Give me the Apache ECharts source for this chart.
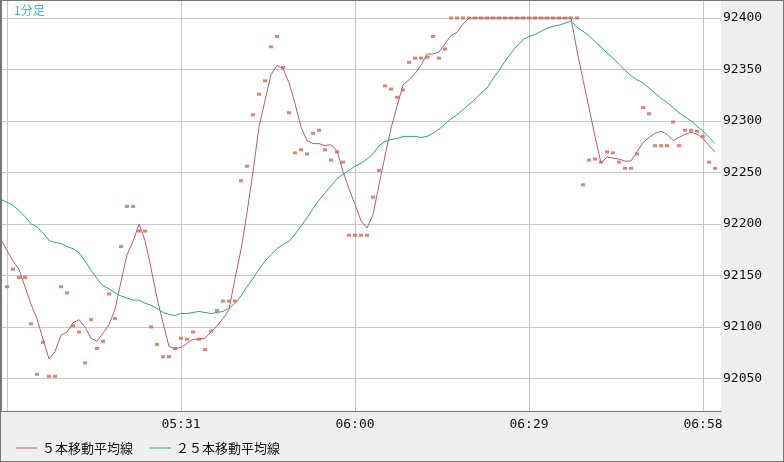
<!DOCTYPE html>
<html>
<head>
<meta charset="utf-8">
<script src="https://cdn.jsdelivr.net/npm/echarts@6/dist/echarts.min.js"></script>
<style>
html, body { margin: 0; padding: 0; background: #fff; }
#chart { width: 782px; height: 460px; border: 1px solid #767676; background: #efefef; }
</style>
</head>
<body>
<div id="chart"></div>
<script>
// 1分足: 05:02 - 07:00 の価格、移動平均は 05:01 から
var startMin = 5 * 60 + 1;

var prices = [
  92139, 92156, 92148, 92148, 92103, 92054, 92085, 92052, 92052, 92139,
  92133, 92101, 92095, 92065, 92107, 92079, 92086, 92132, 92108, 92178,
  92217, 92217, 92193, 92193, 92100, 92083, 92071, 92071, 92079, 92089,
  92088, 92095, 92088, 92078, 92096, 92116, 92125, 92125, 92125, 92242,
  92256, 92306, 92326, 92339, 92372, 92382, 92352, 92308, 92269, 92272,
  92268, 92288, 92291, 92272, 92262, 92270, 92260, 92189, 92189, 92189,
  92189, 92226, 92252, 92334, 92331, 92323, 92330, 92357, 92361, 92361,
  92362, 92382, 92361, 92370, 92400, 92400, 92400, 92400, 92400, 92400,
  92400, 92400, 92400, 92400, 92400, 92400, 92400, 92400, 92400, 92400,
  92400, 92400, 92400, 92400, 92400, 92400, 92238, 92262, 92263, 92260,
  92270, 92269, 92260, 92254, 92254, 92268, 92313, 92307, 92276, 92276,
  92276, 92299, 92276, 92291, 92291, 92290, 92285, 92260, 92254
];

var ma5 = [
  92185, 92174, 92164, 92156, 92139, 92122, 92108, 92088, 92069, 92076,
  92092, 92095, 92104, 92107, 92100, 92089, 92086, 92094, 92102, 92117,
  92144, 92170, 92183, 92200, 92184, 92157, 92128, 92104, 92081, 92079,
  92080, 92084, 92088, 92088, 92089, 92095, 92101, 92108, 92117, 92147,
  92175, 92211, 92251, 92294, 92320, 92345, 92354, 92351, 92337, 92317,
  92294, 92281, 92278, 92278, 92276, 92277, 92271, 92251, 92234, 92219,
  92203, 92196, 92209, 92238, 92266, 92293, 92314, 92335, 92340, 92346,
  92354, 92365, 92365, 92367, 92375, 92383, 92386, 92394, 92400, 92400,
  92400, 92400, 92400, 92400, 92400, 92400, 92400, 92400, 92400, 92400,
  92400, 92400, 92400, 92400, 92400, 92400, 92368, 92340, 92313, 92285,
  92259, 92265, 92264, 92263, 92261, 92261, 92270, 92279, 92284, 92288,
  92290, 92287, 92281, 92284, 92287, 92289, 92287, 92283, 92276, 92270
];

var ma25 = [
  92224, 92221, 92218, 92213, 92207, 92200, 92197, 92191, 92184, 92182,
  92181, 92178, 92176, 92172, 92164, 92155, 92147, 92140, 92137, 92133,
  92130, 92128, 92126, 92126, 92123, 92121, 92118, 92114, 92112, 92111,
  92113, 92113, 92114, 92115, 92114, 92113, 92114, 92115, 92118, 92123,
  92130, 92139, 92147, 92156, 92164, 92170, 92176, 92180, 92183, 92190,
  92198, 92206, 92215, 92223, 92230, 92237, 92244, 92248, 92252, 92256,
  92259, 92263, 92268, 92276, 92280, 92282, 92283, 92285, 92285, 92285,
  92284, 92285, 92288, 92292, 92297, 92302, 92306, 92311, 92316, 92321,
  92327, 92332, 92341, 92349, 92358, 92366, 92373, 92379, 92382, 92384,
  92387, 92390, 92392, 92393, 92395, 92397, 92391, 92387, 92383, 92377,
  92372, 92366, 92361, 92355, 92349, 92344, 92340, 92337, 92332, 92327,
  92322, 92318, 92313, 92308, 92304, 92300, 92295, 92290, 92284, 92278
];

var timeTicks = [1, 30, 59, 88, 117];
var priceTicks = [92050, 92100, 92150, 92200, 92250, 92300, 92350, 92400];

function pad(n) { return (n < 10 ? '0' : '') + n; }
function timeLabel(v) {
    if (v === timeTicks[0]) return '';
    var m = startMin + v;
    return pad(Math.floor(m / 60)) + ':' + pad(m % 60);
}

var chart = echarts.init(document.getElementById('chart'));

var option = {
    animation: false,
    title: {
        text: '1分足',
        left: 13,
        top: 3,
        padding: 0,
        textStyle: { color: '#3cb6e8', fontSize: 12, fontWeight: 'normal', fontFamily: 'Noto Sans CJK JP' }
    },
    legend: {
        data: ['５本移動平均線', '２５本移動平均線'],
        left: 15,
        top: 440.5,
        padding: 0,
        icon: 'rect',
        itemWidth: 21,
        itemHeight: 1,
        itemGap: 17,
        textStyle: { fontFamily: 'Noto Sans CJK JP', fontSize: 13, color: '#111' }
    },
    grid: {
        left: 0, top: 0, width: 720, height: 410,
        show: true, backgroundColor: '#fff', borderWidth: 0
    },
    xAxis: {
        type: 'value',
        min: 0,
        max: 120,
        axisLine: { show: true, lineStyle: { color: '#7a7a7a' } },
        axisTick: { show: false, customValues: timeTicks },
        axisLabel: {
            customValues: timeTicks,
            formatter: timeLabel,
            fontFamily: 'DejaVu Sans Mono',
            fontSize: 13,
            color: '#111',
            margin: 7
        },
        splitLine: { show: true, lineStyle: { color: '#c8c8c8' } }
    },
    yAxis: {
        type: 'value',
        position: 'right',
        min: 92018.3,
        max: 92416.5,
        axisLine: { show: true, lineStyle: { color: '#7a7a7a' } },
        axisTick: { show: false, customValues: priceTicks },
        axisLabel: {
            customValues: priceTicks,
            formatter: function (v) { return String(v); },
            fontFamily: 'DejaVu Sans Mono',
            fontSize: 13,
            color: '#111',
            margin: 2
        },
        splitLine: { show: true, lineStyle: { color: '#c8c8c8' } }
    },
    series: [
        {
            name: '５本移動平均線',
            type: 'line',
            symbol: 'none',
            z: 3,
            data: ma5.map(function (v, k) { return [k, v]; }),
            lineStyle: { color: '#b25b82', width: 1 },
            itemStyle: { color: '#b25b82' }
        },
        {
            name: '２５本移動平均線',
            type: 'line',
            symbol: 'none',
            z: 3,
            data: ma25.map(function (v, k) { return [k, v]; }),
            lineStyle: { color: '#27ad78', width: 1 },
            itemStyle: { color: '#27ad78' }
        },
        {
            name: '価格',
            type: 'scatter',
            symbol: 'rect',
            symbolSize: [4, 3],
            z: 4,
            data: prices.map(function (v, k) { return [k + 1, v]; }),
            itemStyle: { color: '#d9654a' }
        }
    ]
};
chart.setOption(option);
</script>
</body>
</html>
